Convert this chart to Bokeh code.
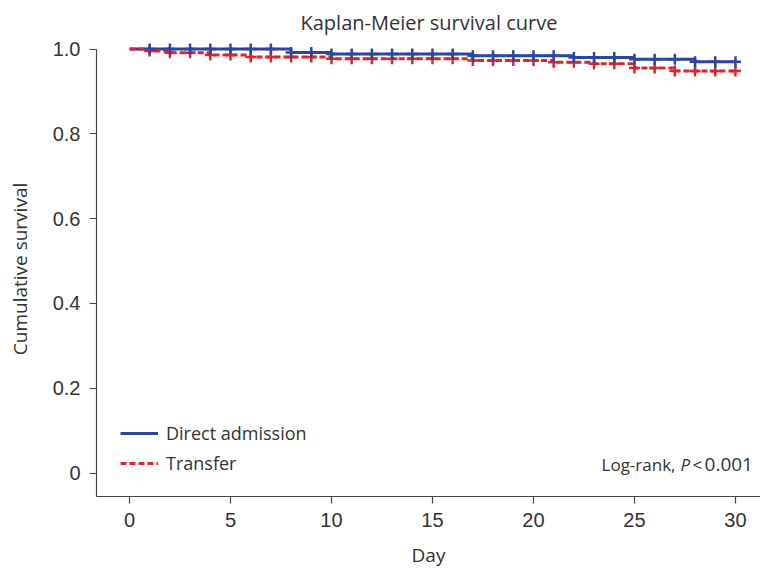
import numpy as np
from bokeh.plotting import figure
from bokeh.models import Range1d, Label, Legend, LegendItem, FixedTicker
from bokeh.embed import file_html
from bokeh.resources import INLINE

# ---- data ----
direct_times = [0, 8, 10, 17, 22, 25, 28, 30]
direct_surv = [1.0, 0.992, 0.988, 0.984, 0.980, 0.976, 0.970, 0.970]
transfer_times = [0, 1, 2, 4, 6, 10, 17, 21, 23, 25, 27, 30]
transfer_surv = [1.0, 0.995, 0.991, 0.986, 0.981, 0.977, 0.973, 0.969, 0.965, 0.955, 0.948, 0.948]
censor_days = list(range(1, 31))
x_ticks = [0, 5, 10, 15, 20, 25, 30]
y_ticks = [0, 0.2, 0.4, 0.6, 0.8, 1.0]
y_tick_labels = ["0", "0.2", "0.4", "0.6", "0.8", "1.0"]

BLUE = "#2B469C"
RED = "#D8262F"
TXT = "#333333"
TICKFONT = "Liberation Sans"
LABFONT = "Open Sans"


def step_value(times, surv, d):
    idx = np.searchsorted(np.array(times), d, side="right") - 1
    return surv[idx]


p = figure(frame_width=664, frame_height=455, output_backend="svg", toolbar_location=None,
           x_range=Range1d(-1.634, 31.24), y_range=Range1d(-0.0554, 1.0177),
           min_border_left=96, min_border_right=0, min_border_top=40, min_border_bottom=70)
p.outline_line_color = None
p.xgrid.visible = False
p.ygrid.visible = False

p.title.text = "Kaplan-Meier survival curve"
p.title.align = "left"
p.title.offset = 204
p.title.standoff = 12
p.title.text_font = LABFONT
p.title.text_font_size = "20px"
p.title.text_font_style = "normal"
p.title.text_color = TXT

# axes
for ax in (p.xaxis[0], p.yaxis[0]):
    ax.axis_line_color = "#444444"
    ax.axis_line_width = 1.2
    ax.major_tick_line_color = "#444444"
    ax.major_tick_line_width = 1.2
    ax.major_tick_in = 0
    ax.major_tick_out = 7
    ax.minor_tick_line_color = None
    ax.major_label_text_font = TICKFONT
    ax.major_label_text_font_size = "20px"
    ax.major_label_text_color = TXT
    ax.axis_label_text_font = LABFONT
    ax.axis_label_text_font_size = "19px"
    ax.axis_label_text_font_style = "normal"
    ax.axis_label_text_color = TXT

p.xaxis.ticker = FixedTicker(ticks=x_ticks)
p.yaxis.ticker = FixedTicker(ticks=y_ticks)
p.yaxis.major_label_overrides = {t: l for t, l in zip(y_ticks, y_tick_labels)}
p.yaxis.bounds = (-0.0554, 1.0)
p.xaxis.axis_label = "Day"
p.yaxis.axis_label = "Cumulative survival"
p.xaxis.major_label_standoff = 9
p.yaxis.major_label_standoff = 9
p.xaxis.axis_label_standoff = 12
p.yaxis.axis_label_standoff = 17

# curves
r_direct = p.step(direct_times, direct_surv, mode="after", line_color=BLUE, line_width=3)
r_transfer = p.step(transfer_times, transfer_surv, mode="after", line_color=RED,
                    line_width=3, line_dash="6 3")

direct_marks = [step_value(direct_times, direct_surv, d) for d in censor_days]
transfer_marks = [step_value(transfer_times, transfer_surv, d) for d in censor_days]
p.scatter(censor_days, transfer_marks, marker="cross", size=11, line_color=RED, line_width=2.5)
p.scatter(censor_days, direct_marks, marker="cross", size=11, line_color=BLUE, line_width=2.5)

legend = Legend(items=[LegendItem(label="Direct admission", renderers=[r_direct]),
                       LegendItem(label="Transfer", renderers=[r_transfer])],
                location=(24, 21), orientation="vertical")
legend.background_fill_alpha = 0
legend.border_line_color = None
legend.padding = 0
legend.margin = 0
legend.spacing = 6
legend.glyph_width = 38
legend.glyph_height = 24
legend.label_height = 24
legend.label_standoff = 8
legend.label_text_font = LABFONT
legend.label_text_font_size = "18px"
legend.label_text_color = TXT
p.add_layout(legend, "center")

# log-rank annotation
lx = 23.37
ly = 0.02
p.add_layout(Label(x=lx, y=ly, text="Log-rank,", text_font=LABFONT, text_font_size="17px",
                   text_color=TXT, text_baseline="middle"))
p.add_layout(Label(x=lx, y=ly, x_offset=79, text="P", text_font=LABFONT, text_font_size="17px",
                   text_font_style="italic", text_color=TXT, text_baseline="middle"))
p.add_layout(Label(x=lx, y=ly, x_offset=91, text="<", text_font=LABFONT, text_font_size="17px",
                   text_color=TXT, text_baseline="middle"))
p.add_layout(Label(x=lx, y=ly, x_offset=103, text="0.001", text_font=LABFONT, text_font_size="19px",
                   text_color=TXT, text_baseline="middle"))

open("out.html", "w").write(file_html(p, INLINE))
